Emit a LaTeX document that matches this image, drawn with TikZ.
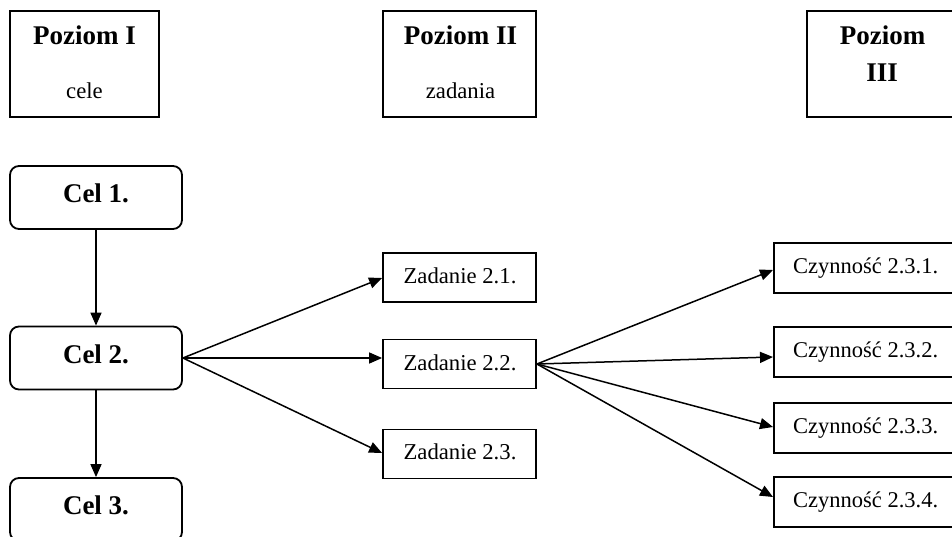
\documentclass[tikz,border=0pt]{standalone}
\usepackage{fontspec}
\setmainfont{Liberation Serif}
\usetikzlibrary{arrows.meta,calc}
\begin{document}
\begin{tikzpicture}[x=1pt,y=-1pt,
  box/.style={draw, line width=1.8pt, inner sep=0pt, rectangle},
  rbox/.style={box, rounded corners=9pt, minimum width=172pt, minimum height=63pt},
  zbox/.style={box, minimum width=153pt, minimum height=49pt},
  cbox/.style={box, minimum width=184pt, minimum height=50pt, anchor=west},
  hbox/.style={box, minimum width=149pt, minimum height=106pt},
  boldtxt/.style={font=\fontsize{27}{32}\selectfont\bfseries, inner sep=0pt, anchor=base},
  regtxt/.style={font=\fontsize{22.7}{27}\selectfont, inner sep=0pt, anchor=base},
  regtxtw/.style={font=\fontsize{22.5}{27}\selectfont, inner sep=0pt, anchor=base west},
  arr/.style={line width=1.5pt, -{Triangle[length=13pt,width=11pt]}}]
\useasboundingbox (0,0) rectangle (952,537);
\fill[white] (0,0) rectangle (952,537);
\clip (0,0) rectangle (952,537);

% header boxes
\node[hbox] (h1) at (84.5,64) {};
\node[hbox, minimum width=153pt] (h2) at (459.5,64) {};
\node[hbox, minimum width=150pt] (h3) at (882,64) {};
\node[boldtxt] (h1a) at (84.5,45) {Poziom I};
\node[regtxt] (h1b) at (84.5,99) {cele};
\node[boldtxt] (h2a) at (460.5,45) {Poziom II};
\node[regtxt] (h2b) at (460.5,99) {zadania};
\node[boldtxt] (h3a) at (882.5,45) {Poziom};
\node[boldtxt] (h3b) at (882,82) {III};

% level I
\node[rbox] (cel1) at (96,197.5) {};
\node[rbox] (cel2) at (96,358) {};
\node[rbox] (cel3) at (96,509.5) {};
\node[boldtxt] (t1) at (96,202.5) {Cel 1.};
\node[boldtxt] (t2) at (96,363) {Cel 2.};
\node[boldtxt] (t3) at (96,514) {Cel 3.};

% level II
\node[zbox] (z1) at (459.5,277.5) {};
\node[zbox] (z2) at (459.5,364) {};
\node[zbox] (z3) at (459.5,454) {};
\node[regtxt] (tz1) at (460,283) {Zadanie 2.1.};
\node[regtxt] (tz2) at (460,370) {Zadanie 2.2.};
\node[regtxt] (tz3) at (460,459) {Zadanie 2.3.};

% level III
\node[cbox] (c1) at (773,268) {};
\node[cbox] (c2) at (773,352) {};
\node[cbox] (c3) at (773,428) {};
\node[cbox] (c4) at (773,502) {};
\node[regtxtw] (tc1) at (793,273) {Czynność 2.3.1.};
\node[regtxtw] (tc2) at (793,357) {Czynność 2.3.2.};
\node[regtxtw] (tc3) at (793,433) {Czynność 2.3.3.};
\node[regtxtw] (tc4) at (793,507) {Czynność 2.3.4.};

% connectors
\draw[arr] (cel1.south) -- (cel2.north);
\draw[arr] (cel2.south) -- (cel3.north);
\draw[arr] (cel2.east) -- ($(z1.west)+(0,0.5)$);
\draw[arr] (cel2.east) -- (cel2.east -| z2.west);
\draw[arr] (cel2.east) -- ($(z3.west)+(0,-1)$);
\draw[arr] (z2.east) -- ($(c1.west)+(0,2)$);
\draw[arr] (z2.east) -- ($(c2.west)+(0,5)$);
\draw[arr] (z2.east) -- ($(c3.west)+(0,-1)$);
\draw[arr] (z2.east) -- ($(c4.west)+(0,-5)$);
\end{tikzpicture}
\end{document}
